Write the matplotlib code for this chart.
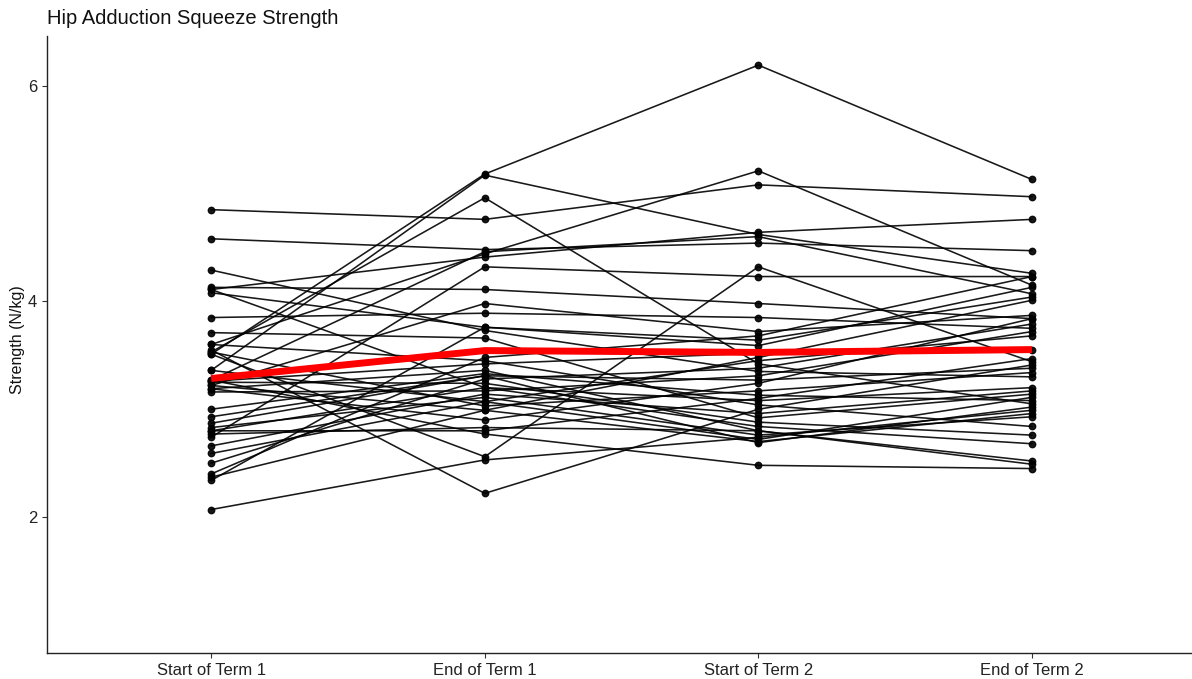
import matplotlib
matplotlib.use("Agg")
import matplotlib.pyplot as plt
import numpy as np

plt.rcParams['font.family'] = ['Liberation Sans', 'DejaVu Sans']

timepoints = ['Start of Term 1', 'End of Term 1', 'Start of Term 2', 'End of Term 2']

# one value per participant, same order in every list
start_t1 = [3.51, 3.36, 3.53, 4.85, 4.58, 3.60, 4.11, 3.27, 2.74, 4.13,
            3.22, 4.29, 3.85, 4.08, 3.71, 3.55, 2.07, 4.11, 2.34, 2.40,
            3.60, 3.26, 3.19, 3.00, 2.93, 2.87, 2.50, 3.25, 2.80, 3.16,
            2.66, 2.83, 3.36, 2.59, 3.53, 2.37, 3.22, 3.19, 2.77, 2.80,
            3.27, 3.51]
end_t1 = [5.18, 5.17, 4.96, 4.76, 4.48, 4.44, 4.41, 4.46, 4.32, 4.11,
          3.98, 3.73, 3.89, 3.76, 3.66, 2.22, 2.53, 3.20, 3.76, 3.48,
          3.45, 3.42, 3.36, 3.33, 3.31, 3.31, 3.28, 3.24, 3.20, 3.17,
          3.14, 3.11, 3.07, 3.07, 3.03, 2.99, 2.99, 2.90, 2.83, 2.80,
          2.77, 2.56]
start_t2 = [6.19, 4.62, 3.42, 5.08, 4.54, 5.21, 4.64, 4.60, 4.23, 3.98,
            3.72, 3.35, 3.85, 3.64, 2.92, 3.00, 2.74, 2.84, 3.59, 3.68,
            3.04, 3.52, 2.80, 3.13, 3.27, 2.69, 3.38, 2.88, 3.08, 3.31,
            2.96, 2.76, 3.45, 2.72, 3.17, 3.48, 2.70, 3.24, 2.80, 3.10,
            2.48, 4.32]
end_t2 = [5.13, 4.26, 3.05, 4.97, 4.47, 4.15, 4.76, 4.07, 4.23, 3.84,
          3.87, 3.30, 3.75, 4.04, 3.14, 3.41, 2.99, 2.68, 4.13, 4.23,
          2.84, 3.55, 2.52, 3.08, 3.38, 3.02, 3.79, 2.76, 3.20, 3.72,
          3.17, 2.93, 3.68, 3.11, 3.34, 4.01, 2.96, 3.84, 2.49, 3.47,
          2.45, 3.44]

data = np.array([start_t1, end_t1, start_t2, end_t2])
x = np.arange(1, len(timepoints) + 1)

fig = plt.figure(figsize=(11.92, 6.79), dpi=100)
ax = fig.add_axes([47 / 1192, 26 / 679, 1 - 47 / 1192, (653 - 36) / 679])

# one line per participant
for i in range(data.shape[1]):
    ax.plot(x, data[:, i], color='black', lw=1.15, marker='o', ms=4.6, alpha=0.9, zorder=2)

# group mean
means = data.mean(axis=1)
ax.plot(x, means, color='#ff0000', lw=5, solid_capstyle='butt', zorder=3)

ax.set_xlim(0.4, 4.585)
ax.set_ylim(0.74, 6.46)
ax.set_xticks(x)
ax.set_xticklabels(timepoints)
ax.set_yticks([2, 4, 6])
ax.tick_params(axis='both', labelsize=12, colors='#333333', length=3.5, width=0.8, labelcolor='#222222')
ax.set_ylabel('Strength (N/kg)', fontsize=11.5, color='#111111')
ax.yaxis.set_label_coords(25 / 1192, 0.5, transform=fig.transFigure)
for s in ['top', 'right']:
    ax.spines[s].set_visible(False)
for s in ['left', 'bottom']:
    ax.spines[s].set_linewidth(1.0)
    ax.spines[s].set_color('#222222')

fig.text(47 / 1192, 1 - 18 / 679, 'Hip Adduction Squeeze Strength', fontsize=14.5,
         va='center', ha='left', color='#111111')

fig.savefig('out.png', dpi=100)
